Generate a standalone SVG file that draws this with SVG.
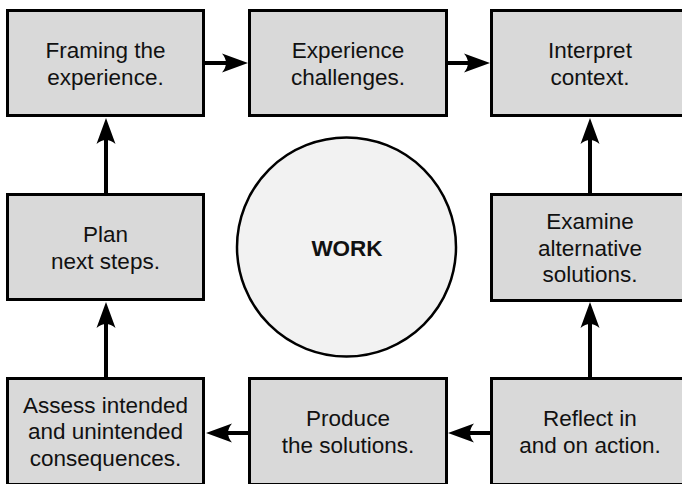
<svg xmlns="http://www.w3.org/2000/svg" width="682" height="484" viewBox="0 0 682 484">
<style>
.box{fill:#d9d9d9;stroke:#000;stroke-width:3}
.lbl{font-family:"Liberation Sans",Arial,sans-serif;font-size:22.5px;fill:#111;text-anchor:middle}
.conn{stroke:#000;stroke-width:4;fill:none;marker-end:url(#ah)}
</style>
<defs>
<marker id="ah" viewBox="0 0 26 20" refX="6" refY="10" markerWidth="26" markerHeight="20" markerUnits="userSpaceOnUse" orient="auto">
<path d="M0,0.5 L26,10 L0,19.5 Q8,10 0,0.5 Z" fill="#000"/>
</marker>
</defs>
<rect width="682" height="484" fill="#fff"/>
<g id="connectors">
<path class="conn" d="M205,63 H228"/>
<path class="conn" d="M448,63 H470"/>
<path class="conn" d="M106,193 V138"/>
<path class="conn" d="M590,193 V138"/>
<path class="conn" d="M590,377 V322"/>
<path class="conn" d="M106,377 V322"/>
<path class="conn" d="M490,433 H468"/>
<path class="conn" d="M248,433 H226"/>
</g>
<g id="work">
<circle cx="346.5" cy="247" r="109.5" fill="#f2f2f2" stroke="#000" stroke-width="2.5"/>
<text x="347" y="256" class="lbl" font-size="22" font-weight="bold">WORK</text>
</g>
<g id="framing">
<rect class="box" x="7.5" y="10.5" width="196" height="105"/>
<text class="lbl" x="105.5" y="58">Framing the</text>
<text class="lbl" x="105.5" y="84.5">experience.</text>
</g>
<g id="experience">
<rect class="box" x="249.5" y="10.5" width="197" height="105"/>
<text class="lbl" x="348" y="58">Experience</text>
<text class="lbl" x="348" y="84.5">challenges.</text>
</g>
<g id="interpret">
<rect class="box" x="491.5" y="10.5" width="197" height="105"/>
<text class="lbl" x="590" y="58">Interpret</text>
<text class="lbl" x="590" y="84.5">context.</text>
</g>
<g id="plan">
<rect class="box" x="7.5" y="194.5" width="196" height="105"/>
<text class="lbl" x="105.5" y="242">Plan</text>
<text class="lbl" x="105.5" y="268.5">next steps.</text>
</g>
<g id="examine">
<rect class="box" x="491.5" y="194.5" width="197" height="106"/>
<text class="lbl" x="590" y="229">Examine</text>
<text class="lbl" x="590" y="255.5">alternative</text>
<text class="lbl" x="590" y="282">solutions.</text>
</g>
<g id="assess">
<rect class="box" x="7.5" y="378.5" width="196" height="106"/>
<text class="lbl" x="105.5" y="412.5">Assess intended</text>
<text class="lbl" x="105.5" y="439">and unintended</text>
<text class="lbl" x="105.5" y="465.5">consequences.</text>
</g>
<g id="produce">
<rect class="box" x="249.5" y="378.5" width="197" height="106"/>
<text class="lbl" x="348" y="426">Produce</text>
<text class="lbl" x="348" y="452.5">the solutions.</text>
</g>
<g id="reflect">
<rect class="box" x="491.5" y="378.5" width="197" height="106"/>
<text class="lbl" x="590" y="426">Reflect in</text>
<text class="lbl" x="590" y="452.5">and on action.</text>
</g>
</svg>
